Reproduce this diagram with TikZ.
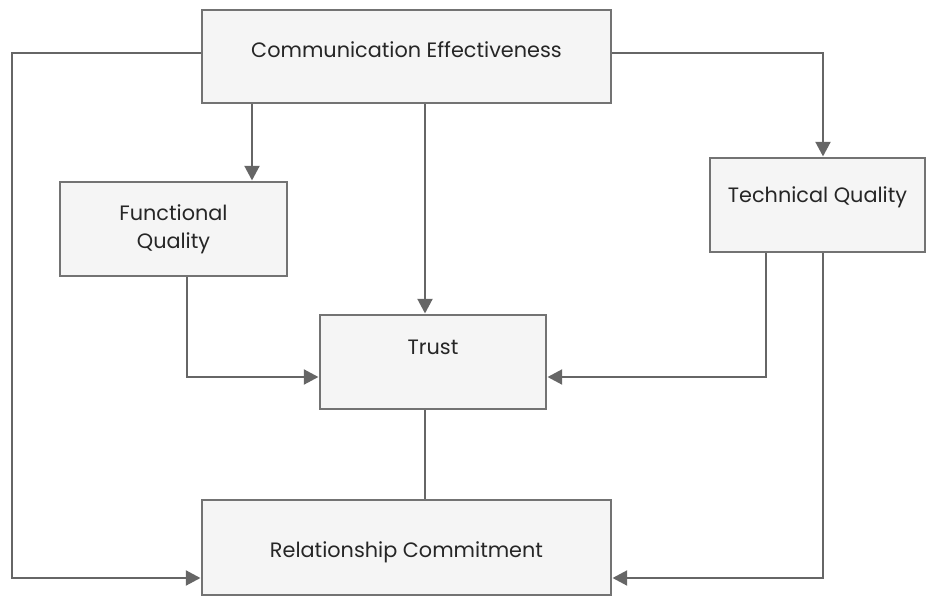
\documentclass[tikz,border=0pt]{standalone}
\usepackage{fontspec}
\setmainfont{Poppins}
\usetikzlibrary{arrows.meta}

\tikzset{
    box/.style={draw=black!55, line width=2.2pt, fill=black!4, inner sep=0pt,
        font=\fontsize{15.6}{21}\selectfont, text=black!85, align=center},
    link/.style={draw=black!60, line width=2.2pt, -{Triangle[length=11pt,width=11pt]}},
    plain/.style={draw=black!60, line width=2.2pt}
}

\begin{document}
\begin{tikzpicture}[x=0.75pt, y=-0.75pt]
            \useasboundingbox (0,0) rectangle (927,598);

            % boxes
            \node[box, minimum width=409*0.75pt, minimum height=93*0.75pt, text depth=10pt]
                (ce) at (406.5,56.5) {Communication Effectiveness};
            \node[box, minimum width=227*0.75pt, minimum height=94*0.75pt]
                (fq) at (173.5,229) {Functional\\Quality};
            \node[box, minimum width=215*0.75pt, minimum height=94*0.75pt, text depth=16pt]
                (tq) at (817.5,205) {Technical Quality};
            \node[box, minimum width=226*0.75pt, minimum height=94*0.75pt, text depth=22pt]
                (tr) at (433,362) {Trust};
            \node[box, minimum width=409*0.75pt, minimum height=95*0.75pt, text height=19pt]
                (rc) at (406.5,547.5) {Relationship Commitment};

            % helper points
            \coordinate (lft) at (12,53);
            \coordinate (rgt) at (823,53);

            % connectors
            \draw[link] (ce.west |- lft) -- (lft) |- (rc.west |- 0,578);
            \draw[link] (ce.south -| 252,0) -- (fq.north -| 252,0);
            \draw[link] (ce.south -| 425,0) -- (tr.north -| 425,0);
            \draw[link] (ce.east |- rgt) -- (rgt) -- (tq.north -| rgt);
            \draw[link] (fq.south -| 187,0) |- (tr.west |- 0,377);
            \draw[link] (tq.south -| 766,0) |- (tr.east |- 0,377);
            \draw[plain] (tr.south -| 425,0) -- (rc.north -| 425,0);
            \draw[link] (tq.south -| 823,0) |- (rc.east |- 0,578);

        \end{tikzpicture}
\end{document}
